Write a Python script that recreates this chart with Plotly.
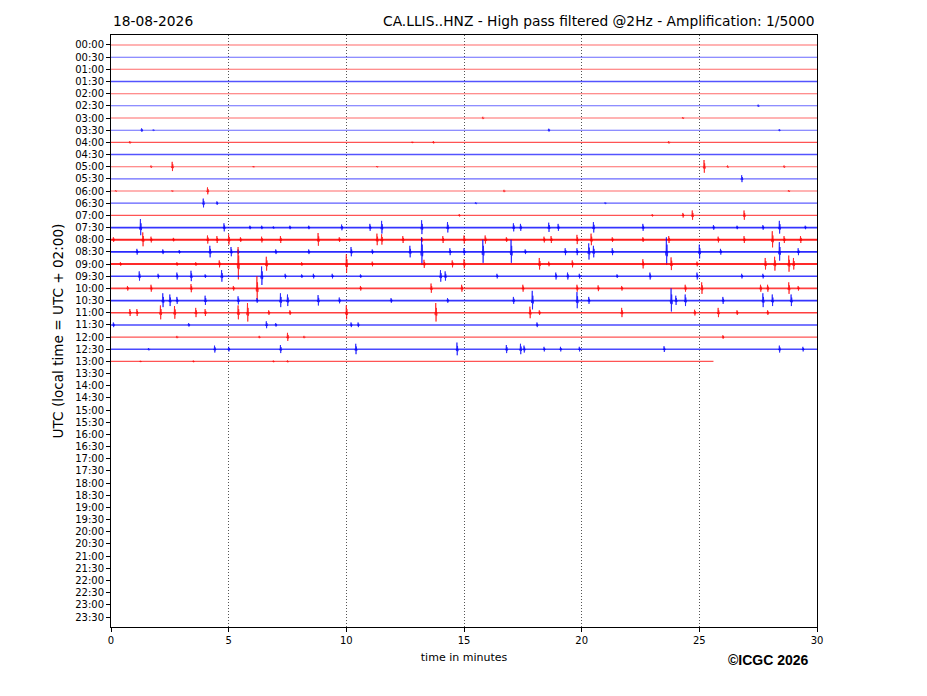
import plotly.graph_objects as go

# ---------------- data read from the helicorder ----------------
row_labels = ["00:00", "00:30", "01:00", "01:30", "02:00", "02:30", "03:00", "03:30",
              "04:00", "04:30", "05:00", "05:30", "06:00", "06:30", "07:00", "07:30",
              "08:00", "08:30", "09:00", "09:30", "10:00", "10:30", "11:00", "11:30",
              "12:00", "12:30", "13:00", "13:30", "14:00", "14:30", "15:00", "15:30",
              "16:00", "16:30", "17:00", "17:30", "18:00", "18:30", "19:00", "19:30",
              "20:00", "20:30", "21:00", "21:30", "22:00", "22:30", "23:00", "23:30"]

# rows that contain signal and the minute where each row's record ends
recorded_rows = row_labels[:27]
row_end_minute = [30] * 26 + [25.6]

# background noise level per recorded row (0 quiet .. 1 noisy)
noise_level = [0.1, 0.1, 0.1, 0.3, 0.1, 0.1, 0.1, 0.1, 0.3, 0.3, 0.1, 0.1, 0.1, 0.2,
               0.3, 0.6, 0.8, 0.7, 0.7, 0.5, 0.5, 0.6, 0.5, 0.4, 0.3, 0.4, 0.3]

# seismic bursts per row: (minute, half-amplitude in row units)
events = {
    "02:30": [(27.5, 0.1)],
    "03:00": [(15.8, 0.1), (24.3, 0.08)],
    "03:30": [(1.3, 0.15), (1.8, 0.05), (18.6, 0.12), (28.4, 0.08)],
    "04:00": [(0.8, 0.1), (12.8, 0.05), (13.7, 0.1), (23.7, 0.1)],
    "05:00": [(1.7, 0.1), (2.6, 0.4), (6.05, 0.05), (11.3, 0.05), (25.2, 0.55), (26.2, 0.1), (28.6, 0.1)],
    "05:30": [(26.8, 0.3)],
    "06:00": [(0.2, 0.05), (2.6, 0.05), (4.1, 0.3), (16.7, 0.1), (28.8, 0.08)],
    "06:30": [(3.92, 0.38), (4.5, 0.15), (15.5, 0.08), (21.0, 0.06)],
    "07:00": [(14.8, 0.1), (23.0, 0.1), (24.3, 0.2), (24.7, 0.4), (26.9, 0.4)],
    "07:30": [(1.25, 0.7), (4.8, 0.35), (5.9, 0.15), (6.4, 0.15), (6.9, 0.1), (7.6, 0.15),
              (8.4, 0.15), (9.8, 0.25), (11.0, 0.3), (11.5, 0.55), (13.2, 0.6), (14.3, 0.45),
              (17.1, 0.35), (17.4, 0.3), (18.6, 0.4), (19.0, 0.3), (20.5, 0.45), (22.6, 0.3),
              (25.6, 0.2), (26.6, 0.15), (27.7, 0.2), (28.4, 0.55), (29.5, 0.15)],
    "08:00": [(0.1, 0.2), (1.35, 0.6), (1.7, 0.25), (2.65, 0.15), (4.1, 0.35), (4.5, 0.3),
              (5.0, 0.45), (5.5, 0.2), (6.4, 0.25), (7.2, 0.3), (8.8, 0.55), (9.7, 0.2),
              (11.3, 0.5), (11.5, 0.45), (12.4, 0.3), (13.2, 0.2), (14.1, 0.3), (15.0, 0.35),
              (15.9, 0.35), (16.8, 0.2), (18.4, 0.25), (18.7, 0.3), (19.8, 0.4), (20.4, 0.5),
              (21.3, 0.2), (22.6, 0.2), (23.7, 0.3), (25.8, 0.25), (26.9, 0.3), (28.1, 0.7),
              (28.6, 0.3), (29.3, 0.3)],
    "08:30": [(1.1, 0.25), (2.2, 0.2), (2.9, 0.15), (4.2, 0.5), (5.1, 0.4), (5.4, 0.2),
              (7.0, 0.2), (8.4, 0.2), (10.2, 0.4), (11.1, 0.2), (12.7, 0.5), (13.2, 1.2),
              (14.4, 0.3), (15.0, 0.3), (15.8, 1.0), (17.0, 1.0), (17.6, 0.2), (19.3, 0.3),
              (19.8, 0.3), (20.3, 0.7), (20.5, 0.5), (21.3, 0.3), (23.6, 1.2), (25.0, 0.6),
              (25.9, 0.25), (28.4, 0.8), (29.2, 0.3)],
    "09:00": [(0.4, 0.15), (2.8, 0.15), (3.6, 0.15), (4.6, 0.3), (5.4, 1.4), (6.6, 0.6),
              (8.1, 0.15), (10.0, 0.8), (11.1, 0.2), (13.3, 0.35), (14.5, 0.3), (15.0, 0.4),
              (18.2, 0.5), (18.6, 0.2), (19.6, 0.3), (22.6, 0.4), (23.8, 0.55), (24.9, 0.2),
              (27.8, 0.5), (28.2, 0.6), (28.8, 0.7), (29.0, 0.5)],
    "09:30": [(1.2, 0.4), (2.0, 0.2), (2.8, 0.3), (3.4, 0.45), (4.0, 0.15), (4.7, 0.5),
              (6.4, 0.8), (7.4, 0.2), (8.1, 0.15), (8.6, 0.2), (9.4, 0.2), (10.6, 0.15),
              (14.0, 0.5), (14.2, 0.4), (16.4, 0.2), (18.9, 0.3), (19.4, 0.3), (19.9, 0.2),
              (21.5, 0.15), (22.9, 0.3), (24.9, 0.3), (26.8, 0.2), (27.7, 0.2)],
    "10:00": [(0.7, 0.2), (1.7, 0.3), (3.4, 0.35), (5.2, 0.2), (6.2, 1.0), (10.6, 0.2),
              (13.6, 0.4), (14.9, 0.3), (17.5, 0.3), (19.8, 0.3), (20.7, 0.25), (21.7, 0.2),
              (24.4, 0.3), (25.1, 0.5), (27.6, 0.3), (27.9, 0.3), (28.8, 0.5), (29.2, 0.2)],
    "10:30": [(2.2, 0.6), (2.5, 0.5), (2.8, 0.3), (4.0, 0.4), (5.4, 0.35), (6.2, 0.2),
              (7.2, 0.6), (7.5, 0.5), (8.8, 0.45), (9.7, 0.25), (11.9, 0.2), (14.3, 0.2),
              (17.1, 0.3), (17.9, 0.8), (19.8, 0.7), (20.3, 0.3), (23.8, 1.0), (24.0, 0.4),
              (24.4, 0.5), (26.0, 0.3), (27.7, 0.6), (28.1, 0.5), (28.9, 0.5)],
    "11:00": [(0.8, 0.3), (1.1, 0.3), (2.1, 0.6), (2.7, 0.55), (3.6, 0.4), (4.0, 0.3),
              (5.4, 0.6), (5.8, 0.8), (6.7, 0.2), (7.6, 0.2), (10.0, 0.6), (13.8, 0.8),
              (17.8, 0.5), (18.2, 0.2), (21.7, 0.4), (24.8, 0.25), (25.8, 0.4), (26.6, 0.2),
              (27.9, 0.2)],
    "11:30": [(0.1, 0.2), (3.3, 0.15), (6.6, 0.3), (7.0, 0.15), (10.2, 0.2), (10.5, 0.2), (18.1, 0.2)],
    "12:00": [(2.8, 0.1), (6.3, 0.1), (7.5, 0.35), (8.2, 0.1), (26.0, 0.15)],
    "12:30": [(1.6, 0.1), (4.4, 0.3), (5.0, 0.2), (7.2, 0.35), (10.4, 0.45), (14.7, 0.55),
              (16.8, 0.35), (17.4, 0.45), (17.55, 0.3), (18.4, 0.2), (19.1, 0.2), (19.9, 0.2),
              (23.5, 0.25), (28.4, 0.3), (29.4, 0.2)],
    "13:00": [(1.25, 0.05), (3.5, 0.07), (6.9, 0.07), (7.5, 0.08)],
}

x_tick_values = [0, 5, 10, 15, 20, 25, 30]
row_colors = ["#ff0000", "#0000ff"]

# ---------------- build the figure ----------------
fig = go.Figure()

# wiggle shape of a single burst (offsets in minutes, relative amplitude)
burst_dx = [-0.04, -0.02, -0.01, 0.0, 0.012, 0.025, 0.04, 0.06]
burst_dy = [0.0, 0.25, -0.3, -1.0, 0.9, -0.5, 0.3, 0.0]

for i, label in enumerate(recorded_rows):
    base = row_labels.index(label)
    end = row_end_minute[i]
    color = row_colors[base % 2]
    # background noise band
    fig.add_trace(go.Scatter(
        x=[0.0, end], y=[base, base], mode="lines",
        line=dict(color=color, width=0.9 + 1.5 * noise_level[i]),
        opacity=0.55 + 0.4 * noise_level[i],
        hoverinfo="skip", showlegend=False,
    ))
    # seismic bursts
    xs, ys = [], []
    for m, a in sorted(events.get(label, [])):
        for dx, dy in zip(burst_dx, burst_dy):
            xs.append(m + dx)
            ys.append(base + dy * a)
        xs.append(None)
        ys.append(None)
    if xs:
        fig.add_trace(go.Scatter(
            x=xs, y=ys, mode="lines", connectgaps=False,
            line=dict(color=color, width=0.75),
            opacity=0.9,
            hoverinfo="skip", showlegend=False,
        ))

font = "DejaVu Sans, Liberation Sans, sans-serif"

fig.update_layout(
    width=919, height=688,
    margin=dict(l=103, r=110, t=27, b=69),
    paper_bgcolor="white", plot_bgcolor="white",
    font=dict(family=font, color="black"),
    showlegend=False,
    xaxis=dict(
        range=[0, 30], tickvals=x_tick_values, ticktext=[str(v) for v in x_tick_values],
        ticks="outside", ticklen=4, tickcolor="black", tickfont=dict(size=10),
        showgrid=True, gridcolor="#555555", griddash="1px,2px", gridwidth=0.6,
        showline=True, linecolor="black", linewidth=1, mirror=True, zeroline=False,
        title=dict(text="time in minutes", font=dict(size=11), standoff=8),
    ),
    yaxis=dict(
        range=[47.82, -0.82], tickvals=list(range(len(row_labels))), ticktext=row_labels,
        ticks="outside", ticklen=4, tickcolor="black", tickfont=dict(size=10),
        showgrid=False, showline=True, linecolor="black", linewidth=1, mirror=True,
        zeroline=False,
        title=dict(text="UTC (local time = UTC + 02:00)", font=dict(size=13.6), standoff=8),
    ),
    annotations=[
        dict(text="18-08-2026", xref="paper", yref="paper", x=0, y=1, xanchor="left",
             yanchor="bottom", yshift=4, showarrow=False, font=dict(size=13.8)),
        dict(text="CA.LLIS..HNZ - High pass filtered @2Hz - Amplification: 1/5000",
             xref="paper", yref="paper", x=1, y=1, xanchor="right", yanchor="bottom",
             yshift=4, showarrow=False, font=dict(size=13.8)),
        dict(text="<b>©ICGC 2026</b>", xref="paper", yref="paper", x=0.9915, y=0,
             xanchor="right", yanchor="top", yshift=-23, showarrow=False,
             font=dict(size=14, family="Liberation Sans, Arial, sans-serif")),
    ],
)

fig.write_html("out.html")
